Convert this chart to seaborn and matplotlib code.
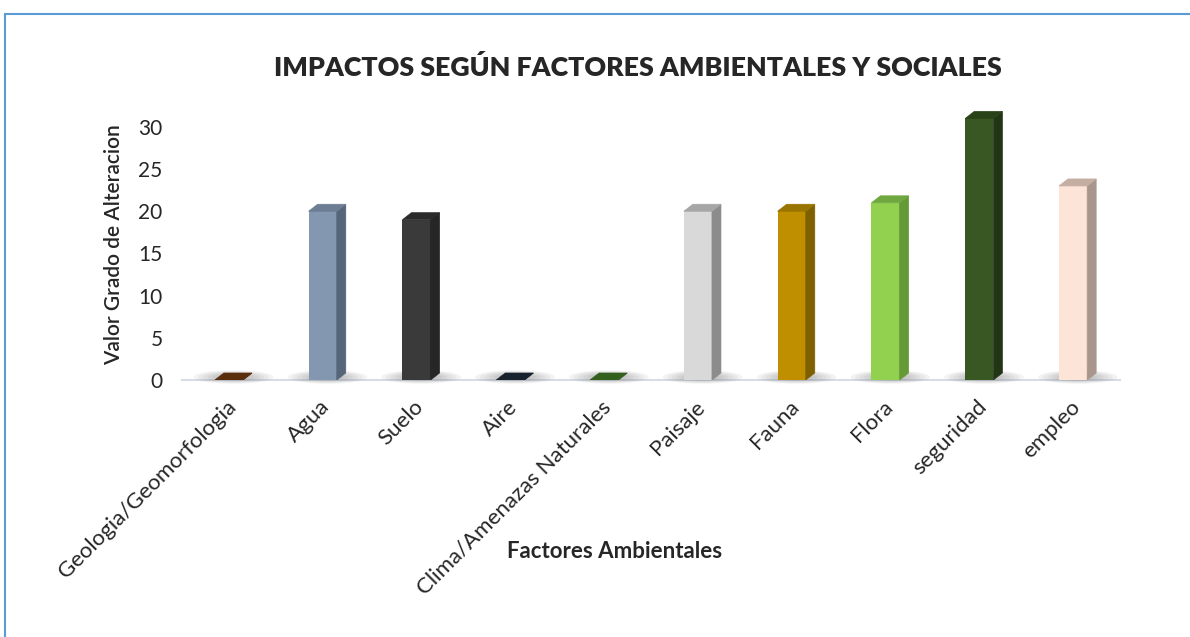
import matplotlib
matplotlib.use("Agg")
import matplotlib.pyplot as plt
from matplotlib.patches import Polygon, Ellipse, Rectangle
import matplotlib.transforms as mtransforms
import seaborn as sns

# ---- Data ----
factores = ["Geologia/Geomorfologia", "Agua", "Suelo", "Aire",
            "Clima/Amenazas Naturales", "Paisaje", "Fauna", "Flora",
            "seguridad", "empleo"]
valores = [0, 20, 19, 0, 0, 20, 20, 21, 31, 23]

# front / side / top colours of each bar
col_front = ["#6b3510", "#8497b0", "#3a3a3a", "#1f2a38", "#3d6b23",
             "#d9d9d9", "#bf8f00", "#92d050", "#385723", "#fce4d6"]
col_side = ["#4a240a", "#56657a", "#262626", "#141c26", "#2a4a18",
            "#8c8c8c", "#7f6000", "#669a37", "#223616", "#a8968c"]
col_top = ["#5a2d0c", "#6c7d93", "#2b2b2b", "#18222e", "#34601e",
           "#a6a6a6", "#9a7400", "#70a840", "#2a4218", "#c4aea2"]

sns.set_style("white")
plt.rcParams["font.family"] = ["Lato", "DejaVu Sans"]

W, H = 1190, 637
fig = plt.figure(figsize=(W / 100, H / 100), dpi=100)

# blue frame of the chart object (runs off the right and bottom)
fig.patches.append(Rectangle((5 / W, -0.05), 1.2, (H - 14) / H + 0.05,
                             transform=fig.transFigure, fill=False,
                             edgecolor="#5b9bd5", linewidth=1.5))

ax = fig.add_axes([182 / W, (H - 380) / H, (1120 - 182) / W, (380 - 110) / H])
sns.barplot(x=factores, y=valores, hue=factores, palette=col_front,
            legend=False, width=0.3, saturation=1, linewidth=0, ax=ax, zorder=3)
ax.set_ylim(0, 32)
ax.set_xlim(-0.5, len(factores) - 0.5)
ax.set_yticks(range(0, 31, 5))

# fake 3D depth: offsets in data units (~9 px right, ~7 px up)
dx, dy = 0.096, 0.83
for i, p in enumerate(ax.patches):
    x0, w, h = p.get_x(), p.get_width(), p.get_height()
    x1 = x0 + w
    xc = x0 + w / 2
    # soft shadow on the floor
    for k in range(6):
        ax.add_patch(Ellipse((xc + 0.05, 0.35), 0.85 - k * 0.1, 1.6 - k * 0.2,
                             facecolor="#404040", alpha=0.06, edgecolor="none",
                             zorder=1, clip_on=False))
    ax.add_patch(Polygon([(x1, 0), (x1 + dx, dy), (x1 + dx, h + dy), (x1, h)],
                         closed=True, facecolor=col_side[i], edgecolor=col_side[i],
                         linewidth=0.5, zorder=3))
    ax.add_patch(Polygon([(x0, h), (x0 + dx, h + dy), (x1 + dx, h + dy), (x1, h)],
                         closed=True, facecolor=col_top[i], edgecolor=col_top[i],
                         linewidth=0.5, zorder=3))

for s in ["top", "right", "left"]:
    ax.spines[s].set_visible(False)
ax.spines["bottom"].set_color("#d6dde6")
ax.spines["bottom"].set_linewidth(1.5)
ax.spines["bottom"].set_zorder(0)
ax.tick_params(axis="both", length=0)
ax.tick_params(axis="y", labelsize=15, pad=14)
ax.tick_params(axis="x", labelsize=16, pad=12)

offset = mtransforms.ScaledTranslation(8 / 72, 0, fig.dpi_scale_trans)
for lab in ax.get_xticklabels():
    lab.set_rotation(45)
    lab.set_ha("right")
    lab.set_va("top")
    lab.set_transform(lab.get_transform() + offset)

ax.set_ylabel("Valor Grado de Alteracion", fontsize=15, fontweight="semibold",
              labelpad=10)
ax.set_xlabel("")
fig.text(615 / W, 1 - 551 / H, "Factores Ambientales", fontsize=16,
         fontweight="bold", ha="center", va="center")
fig.text(638 / W, 1 - 67 / H, "IMPACTOS SEGÚN FACTORES AMBIENTALES Y SOCIALES",
         fontsize=19.3, fontweight="heavy", ha="center", va="center")

fig.savefig("out.png", dpi=100)
